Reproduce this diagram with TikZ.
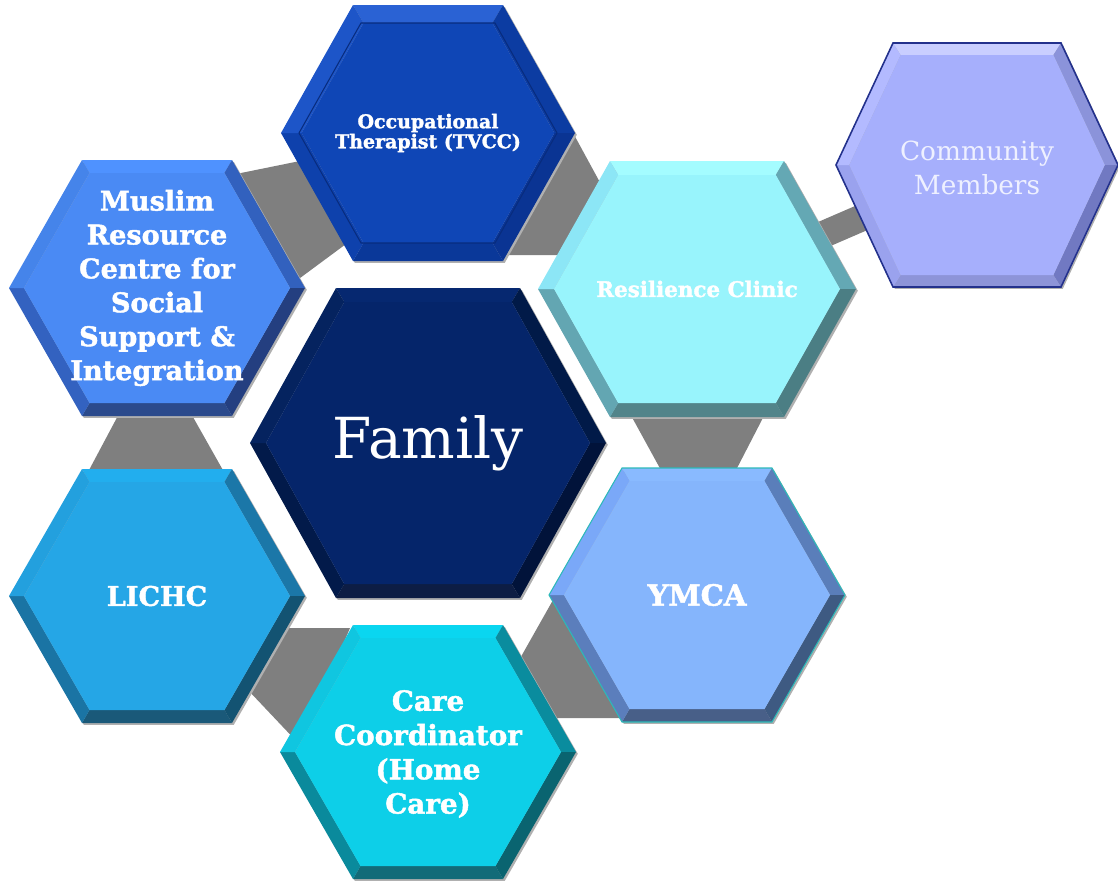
\documentclass[tikz,border=0pt]{standalone}
\usepackage{fontspec}
\setmainfont{DejaVu Serif}[BoldFeatures={FakeBold=1.6}]
\usetikzlibrary{calc}
\pgfdeclarelayer{background}
\pgfsetlayers{background,main}

\definecolor{conncol}{HTML}{7F7F7F}
\definecolor{hexshadow}{HTML}{B0B0B0}
% Family
\definecolor{famM}{HTML}{05256A}\definecolor{famT}{HTML}{062870}\definecolor{famUL}{HTML}{05235F}
\definecolor{famUR}{HTML}{011A48}\definecolor{famLR}{HTML}{01133A}\definecolor{famB}{HTML}{0D1D44}\definecolor{famLL}{HTML}{021A4A}
% Occupational therapist
\definecolor{otM}{HTML}{0F46B6}\definecolor{otT}{HTML}{2A62D4}\definecolor{otUL}{HTML}{1D55C8}
\definecolor{otUR}{HTML}{0C3CA2}\definecolor{otLR}{HTML}{0A3493}\definecolor{otB}{HTML}{0A3899}\definecolor{otLL}{HTML}{0E41AC}
\definecolor{otLn}{HTML}{082C7E}
% Resilience
\definecolor{resM}{HTML}{98F4FC}\definecolor{resT}{HTML}{A4FCFF}\definecolor{resUL}{HTML}{8CE6F6}
\definecolor{resUR}{HTML}{64A8B4}\definecolor{resLR}{HTML}{4B7E84}\definecolor{resB}{HTML}{52848A}\definecolor{resLL}{HTML}{63A6B2}
% Community
\definecolor{comM}{HTML}{A6AFFC}\definecolor{comT}{HTML}{C9CEFF}\definecolor{comUL}{HTML}{B3BAFF}
\definecolor{comUR}{HTML}{8B93DA}\definecolor{comLR}{HTML}{7179C2}\definecolor{comB}{HTML}{8D94D8}\definecolor{comLL}{HTML}{9AA2EE}
\definecolor{comLn}{HTML}{23318C}\definecolor{comTx}{HTML}{EEF0FF}
% Muslim
\definecolor{musM}{HTML}{4A8AF4}\definecolor{musT}{HTML}{4F92FF}\definecolor{musUL}{HTML}{4584EA}
\definecolor{musUR}{HTML}{3261BE}\definecolor{musLR}{HTML}{243F80}\definecolor{musB}{HTML}{2B4A8C}\definecolor{musLL}{HTML}{3362C0}
% LICHC
\definecolor{licM}{HTML}{25A6E6}\definecolor{licT}{HTML}{22AEEE}\definecolor{licUL}{HTML}{23A0DE}
\definecolor{licUR}{HTML}{1B77A8}\definecolor{licLR}{HTML}{135372}\definecolor{licB}{HTML}{1A5979}\definecolor{licLL}{HTML}{1A74A4}
% Care
\definecolor{careM}{HTML}{0DCFE8}\definecolor{careT}{HTML}{0AD6F0}\definecolor{careUL}{HTML}{10C6E0}
\definecolor{careUR}{HTML}{0A8C9E}\definecolor{careLR}{HTML}{0A6470}\definecolor{careB}{HTML}{126B78}\definecolor{careLL}{HTML}{0A8A9C}
% YMCA
\definecolor{ymM}{HTML}{85B5FC}\definecolor{ymT}{HTML}{89BAFF}\definecolor{ymUL}{HTML}{7AA8F8}
\definecolor{ymUR}{HTML}{5A7EBA}\definecolor{ymLR}{HTML}{3E5A82}\definecolor{ymB}{HTML}{485F88}\definecolor{ymLL}{HTML}{5B7EBC}
\definecolor{ymLn}{HTML}{2CB9B9}

% #1 cx, #2 cy, #3 half width, #4 half top edge, #5 half height, #6 bevel, #7 colour prefix
\newcommand{\hexbev}[7]{%
  \pgfmathsetmacro{\hbS}{sin(atan2(#5,#3-#4))}%
  \pgfmathsetmacro{\hbL}{#3-#6/\hbS}%
  \pgfmathsetmacro{\hbH}{#5-#6}%
  \pgfmathsetmacro{\hbT}{\hbL-\hbH*(#3-#4)/#5}%
  \fill[hexshadow] (#1-#3+1.8,#2+1.8) -- (#1-#4+1.8,#2-#5+1.8) -- (#1+#4+1.8,#2-#5+1.8)
     -- (#1+#3+1.8,#2+1.8) -- (#1+#4+1.8,#2+#5+1.8) -- (#1-#4+1.8,#2+#5+1.8) -- cycle;
  \fill[#7T]  (#1-#4,#2-#5) -- (#1+#4,#2-#5) -- (#1+\hbT,#2-\hbH) -- (#1-\hbT,#2-\hbH) -- cycle;
  \fill[#7UR] (#1+#4,#2-#5) -- (#1+#3,#2) -- (#1+\hbL,#2) -- (#1+\hbT,#2-\hbH) -- cycle;
  \fill[#7LR] (#1+#3,#2) -- (#1+#4,#2+#5) -- (#1+\hbT,#2+\hbH) -- (#1+\hbL,#2) -- cycle;
  \fill[#7B]  (#1+#4,#2+#5) -- (#1-#4,#2+#5) -- (#1-\hbT,#2+\hbH) -- (#1+\hbT,#2+\hbH) -- cycle;
  \fill[#7LL] (#1-#4,#2+#5) -- (#1-#3,#2) -- (#1-\hbL,#2) -- (#1-\hbT,#2+\hbH) -- cycle;
  \fill[#7UL] (#1-#3,#2) -- (#1-#4,#2-#5) -- (#1-\hbT,#2-\hbH) -- (#1-\hbL,#2) -- cycle;
  \fill[#7M]  (#1-\hbL,#2) -- (#1-\hbT,#2-\hbH) -- (#1+\hbT,#2-\hbH) -- (#1+\hbL,#2)
     -- (#1+\hbT,#2+\hbH) -- (#1-\hbT,#2+\hbH) -- cycle;
}
% outline of a hexagon
\newcommand{\hexline}[6]{%
  \draw[#6] (#1-#3,#2) -- (#1-#4,#2-#5) -- (#1+#4,#2-#5) -- (#1+#3,#2)
     -- (#1+#4,#2+#5) -- (#1-#4,#2+#5) -- cycle;
}

\tikzset{
  conn/.style={fill=conncol, draw=none},
  hextext/.style={text=white, align=center, inner sep=0pt},
  bigbold/.style={font=\fontsize{15.4}{19.3}\selectfont\bfseries},
  smallbold/.style={font=\fontsize{10.8}{11.4}\selectfont\bfseries},
}

\begin{document}
\begin{tikzpicture}[x=0.02cm, y=-0.02cm]
\useasboundingbox (0,0) rectangle (1118,883);

% hexagons
\hexbev{428}{443}{178}{92}{155}{14}{fam}
\hexbev{428}{133}{147}{75}{128}{18}{ot}
\hexline{428}{133}{129}{67}{110}{otLn, line width=0.6pt}
\hexbev{697}{289}{159}{87}{128}{14}{res}
\hexbev{977}{165}{141}{84}{122}{12}{com}
\hexline{977}{165}{141}{84}{122}{comLn, line width=0.9pt}
\hexbev{157}{288}{148}{75}{128}{13}{mus}
\hexbev{157}{596}{148}{75}{127}{13}{lic}
\hexbev{428}{752}{148}{75}{127}{13}{care}
\hexbev{697}{595}{148}{75}{127}{13}{ym}
\hexline{697}{595}{148}{75}{127}{ymLn, line width=0.6pt}

% labels
\node[hextext, font=\fontsize{32.2}{36}\selectfont] (fam) at (428,443) {Family};
\node[hextext, smallbold] (ot) at (428,133) {Occupational\\Therapist (TVCC)};
\node[hextext, font=\fontsize{12.2}{14}\selectfont\bfseries] (res) at (697,289) {Resilience Clinic};
\node[hextext, text=comTx, font=\fontsize{15}{19.8}\selectfont] (com) at (977,168) {Community\\Members};
\node[hextext, bigbold] (mus) at (157,288) {Muslim\\Resource\\Centre for\\Social\\Support \&\\Integration};
\node[hextext, bigbold] (lic) at (157,596) {LICHC};
\node[hextext, font=\fontsize{15.8}{19.5}\selectfont\bfseries] (care) at (428,754) {Care\\Coordinator\\(Home\\Care)};
\node[hextext, font=\fontsize{16.6}{18}\selectfont\bfseries] (ym) at (697,595) {YMCA};

% connectors (behind the hexagons)
\begin{pgfonlayer}{background}
  \fill[conn] ($(mus.center)+(79,-114)$) -- ($(ot.center)+(-128,28)$)
     -- ($(ot.center)+(-82,111)$) -- ($(mus.center)+(139,-7)$) -- cycle;
  \fill[conn] ($(ot.center)+(144,-2)$) -- ($(res.center)+(-94,-101)$)
     -- ($(res.center)+(-137,-34)$) -- ($(ot.center)+(72,122)$) -- cycle;
  \fill[conn] ($(res.center)+(-69,121)$) -- ($(res.center)+(70,121)$)
     -- ($(ym.center)+(38,-123)$) -- ($(ym.center)+(-35,-123)$) -- cycle;
  \fill[conn] ($(mus.center)+(-36,122)$) -- ($(mus.center)+(32,122)$)
     -- ($(lic.center)+(67,-124)$) -- ($(lic.center)+(-69,-124)$) -- cycle;
  \fill[conn] ($(lic.center)+(127,32)$) -- ($(care.center)+(-78,-126)$)
     -- ($(care.center)+(-128,-9)$) -- ($(lic.center)+(91,94)$) -- cycle;
  \fill[conn] ($(ym.center)+(-144,5)$) -- ($(care.center)+(90,-92)$)
     -- ($(care.center)+(112,-36)$) -- ($(ym.center)+(-72,123)$) -- cycle;
  \draw[conncol, line width=0.54cm] (res.center) -- (com.center);
\end{pgfonlayer}
\end{tikzpicture}
\end{document}
